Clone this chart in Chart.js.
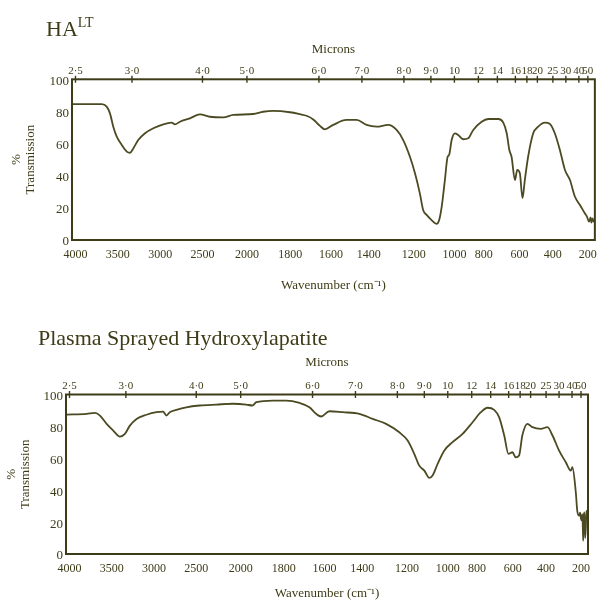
<!DOCTYPE html>
<html>
<head>
<meta charset="utf-8">
<script src="https://cdn.jsdelivr.net/npm/chart.js@4.4.1/dist/chart.umd.min.js"></script>
<style>
  html, body { margin: 0; padding: 0; background: #fff; }
  #page { position: relative; width: 605px; height: 601px; overflow: hidden;
          font-family: "Liberation Serif", "Times New Roman", serif; color: #3e3c18; }
  canvas { position: absolute; left: 0; }
  #haltChart { top: 0; }
  #plasmaChart { top: 300px; }
  .title { position: absolute; font-size: 22px; line-height: 22px; white-space: nowrap; }
  .title span { font-size: 14px; position: relative; top: -9px; }
</style>
</head>
<body>
<div id="page">
  <canvas id="haltChart" width="605" height="300"></canvas>
  <canvas id="plasmaChart" width="605" height="301"></canvas>
  <div class="title" style="left:46px;top:18px">HA<span>LT</span></div>
  <div class="title" style="left:38px;top:327px">Plasma Sprayed Hydroxylapatite</div>
</div>
<script>
// axis labels
const wavenumberTicks = [4000, 3500, 3000, 2500, 2000, 1800, 1600, 1400, 1200, 1000, 800, 600, 400, 200];
const micronTicks = [2.5, 3, 4, 5, 6, 7, 8, 9, 10, 12, 14, 16, 18, 20, 25, 30, 40, 50];
const micronLabels = ['2·5', '3·0', '4·0', '5·0', '6·0', '7·0', '8·0', '9·0', '10', '12', '14', '16', '18', '20', '25', '30', '40', '50'];
const transmissionTicks = [0, 20, 40, 60, 80, 100];

// HA-LT spectrum (cm-1, %T)
const haltWavenumber = [4033, 3691, 3632, 3593, 3554, 3513, 3454, 3395, 3356, 3318, 3259, 3179, 3081, 2963, 2864, 2825, 2766, 2648, 2530, 2416,
  2266, 2154, 1971, 1925, 1878, 1801, 1755, 1724, 1693, 1661, 1634, 1588, 1514, 1458, 1409, 1366, 1317, 1281, 1253, 1219,
  1193, 1168, 1151, 1133, 1108, 1084, 1072, 1060, 1045, 1032, 1025, 1013, 997, 974, 939, 904, 869, 813, 772, 710,
  685, 668, 655, 644, 627, 614, 598, 582, 568, 549, 522, 495, 452, 419, 390, 364, 338, 307, 275, 244,
  217, 205, 193, 185, 180, 174, 168, 161];
const haltTransmission = [84.6, 84.6, 83, 78.8, 70.5, 64.3, 59.1, 55, 54.3, 57, 62.2, 66.4, 69.5, 72, 73, 72, 73.6, 75.7, 78.2, 76.7,
  76.3, 77.8, 78.4, 79.8, 80.3, 79.5, 78.3, 77.3, 75, 71, 68.9, 71.6, 74.7, 74.7, 71.6, 70.5, 71.6, 68.5, 62.2, 51.8,
  41.5, 29, 18.7, 15.6, 12.4, 10, 12.4, 20.7, 37.3, 51.8, 52.9, 62.2, 66.4, 65.3, 62.7, 63.3, 68.5, 73.6, 75.3, 75.3,
  73, 66.4, 56, 51.8, 37.3, 43.6, 41.5, 26, 37.3, 51.8, 66.4, 70.5, 73, 72.2, 66.4, 56, 43.6, 37.3, 26.9, 21.8,
  16.6, 14.5, 11.4, 14, 10.8, 13.5, 11.5, 12.4];

// plasma sprayed HA spectrum (cm-1, %T)
const plasmaWavenumber = [4033, 3797, 3699, 3640, 3561, 3483, 3404, 3345, 3286, 3207, 3089, 2971, 2893, 2853, 2814, 2735, 2617, 2461, 2273, 2087,
  1974, 1946, 1927, 1851, 1789, 1727, 1681, 1647, 1619, 1573, 1499, 1412, 1355, 1298, 1240, 1197, 1163, 1137, 1111, 1087,
  1072, 1048, 1017, 967, 897, 828, 776, 734, 697, 672, 647, 626, 602, 582, 562, 544, 517, 488, 434, 393,
  367, 333, 290, 258, 248, 229, 221, 210, 205, 200, 196, 192, 188, 185, 181, 177, 173, 170, 166];
const plasmaTransmission = [87.4, 87.9, 88.5, 86.8, 81.6, 77.4, 73.6, 75.3, 80.5, 84.7, 87.3, 88.9, 89.3, 86.8, 88.9, 90.4, 92, 93.1, 93.7, 94.2,
  93.7, 93.1, 95.2, 96.2, 96.2, 94.7, 92, 87.9, 86.2, 89.5, 88.9, 87.9, 84.7, 81.6, 76.3, 71.1, 62.8, 55.4, 52.3, 47.7,
  49.2, 56.5, 64.8, 70.1, 75.3, 82.6, 88.9, 91.7, 90.4, 85.7, 74.3, 62.8, 63.8, 60.6, 61.7, 74.3, 81.6, 79.5, 78.5, 79.5,
  74.3, 64.8, 57.5, 52.3, 54.4, 38.7, 27.2, 24, 26, 22, 20.9, 25, 8.3, 23, 26.1, 10, 16.7, 27, 24];

const ink = '#3e3c18';
const trace = '#4c4a22';
const serif = '"Liberation Serif", "Times New Roman", serif';

// the chart paper is not linear: it changes scale at 2000 and again below 1000 cm-1.
// where the micron marks fall along the 523 px frame
const paperWavenumber = [4041, 4000, 3333.3, 2500, 2000, 1666.7, 1428.6, 1250, 1111.1, 1000, 833.3, 714.3, 625, 555.6, 500, 400, 333.3, 250, 200, 161];
const paperPosition = [0, 3.5, 60, 130.5, 175, 247, 290, 332, 359, 382.5, 406.5, 425.5, 443.5, 455, 465.5, 481, 494, 507, 516, 523];

function paperFraction(wn) {
  const w = paperWavenumber, p = paperPosition, n = w.length;
  let i = 0;
  while (i < n - 2 && wn < w[i + 1]) i++;
  const t = (wn - w[i]) / (w[i + 1] - w[i]);
  return (p[i] + t * (p[i + 1] - p[i])) / p[n - 1];
}

function wavenumberAt(frac) {
  const w = paperWavenumber, p = paperPosition, n = w.length;
  const pos = frac * p[n - 1];
  let i = 0;
  while (i < n - 2 && pos > p[i + 1]) i++;
  const t = (pos - p[i]) / (p[i + 1] - p[i]);
  return w[i] + t * (w[i + 1] - w[i]);
}

class PaperScale extends Chart.LinearScale {
  static id = 'paper';
  getPixelForValue(value) {
    return this.getPixelForDecimal(paperFraction(value));
  }
  getValueForPixel(pixel) {
    return wavenumberAt(this.getDecimalForPixel(pixel));
  }
}
Chart.register(PaperScale);

// frame box plus the little cross marks on the micron axis
const paperFrame = {
  id: 'paperFrame',
  afterDatasetsDraw(chart) {
    const { ctx, chartArea: a } = chart;
    const top = chart.scales.microns;
    ctx.save();
    ctx.strokeStyle = ink;
    ctx.lineWidth = 2;
    ctx.strokeRect(a.left, a.top, a.right - a.left, a.bottom - a.top);
    ctx.lineWidth = 1.4;
    ctx.beginPath();
    top.ticks.forEach((t, i) => {
      const x = top.getPixelForTick(i);
      ctx.moveTo(x, a.top - 3.5);
      ctx.lineTo(x, a.top + 3.5);
    });
    ctx.stroke();
    ctx.restore();
  }
};

function spectrumChart(id, wavenumbers, transmission, box) {
  const points = wavenumbers.map((w, i) => ({ x: w, y: transmission[i] }));
  return new Chart(document.getElementById(id), {
    type: 'line',
    data: {
      datasets: [{
        data: points,
        borderColor: trace,
        borderWidth: 1.8,
        pointRadius: 0,
        cubicInterpolationMode: 'monotone',
        fill: false
      }]
    },
    options: {
      responsive: false,
      animation: false,
      events: [],
      layout: { autoPadding: false, padding: box.padding },
      plugins: { legend: { display: false }, tooltip: { enabled: false } },
      scales: {
        x: {
          type: 'paper',
          position: 'bottom',
          min: 161,
          max: 4041,
          afterBuildTicks: s => { s.ticks = wavenumberTicks.map(v => ({ value: v })); },
          afterFit: s => { s.height = box.bottomHeight; },
          grid: { display: false, drawTicks: false },
          border: { display: false },
          ticks: {
            autoSkip: false, maxRotation: 0, minRotation: 0, padding: 8,
            color: ink, font: { family: serif, size: 12 },
            callback: v => String(v)
          },
          title: {
            display: true, text: 'Wavenumber (cm⁻¹)', color: ink, padding: 0,
            font: { family: serif, size: 13 }
          }
        },
        microns: {
          type: 'paper',
          position: 'top',
          min: 161,
          max: 4041,
          afterBuildTicks: s => { s.ticks = micronTicks.map(m => ({ value: 10000 / m })); },
          afterFit: s => { s.height = box.topHeight; },
          grid: { display: false, drawTicks: false },
          border: { display: false },
          ticks: {
            autoSkip: false, maxRotation: 0, minRotation: 0, padding: 2,
            color: ink, font: { family: serif, size: 11 },
            callback: (v, i) => micronLabels[i]
          },
          title: {
            display: true, text: 'Microns', color: ink, padding: 0,
            font: { family: serif, size: 13 }
          }
        },
        y: {
          min: 0,
          max: 100,
          afterBuildTicks: s => { s.ticks = transmissionTicks.map(v => ({ value: v })); },
          afterFit: s => { s.width = box.yWidth; },
          grid: { display: false, drawTicks: false },
          border: { display: false },
          ticks: { padding: 3, labelOffset: 2, color: ink, font: { family: serif, size: 13 } },
          title: {
            display: true, text: ['%', 'Transmission'], color: ink, padding: 0,
            font: { family: serif, size: 13, lineHeight: 1.1 }
          }
        }
      }
    },
    plugins: [paperFrame]
  });
}

spectrumChart('haltChart', haltWavenumber, haltTransmission, {
  padding: { left: 9, right: 9.5, top: 42, bottom: 7 },
  yWidth: 63, topHeight: 37.3, bottomHeight: 53
});

spectrumChart('plasmaChart', plasmaWavenumber, plasmaTransmission, {
  padding: { left: 4, right: 17, top: 55, bottom: 0 },
  yWidth: 62, topHeight: 39.5, bottomHeight: 47
});
</script>
</body>
</html>
